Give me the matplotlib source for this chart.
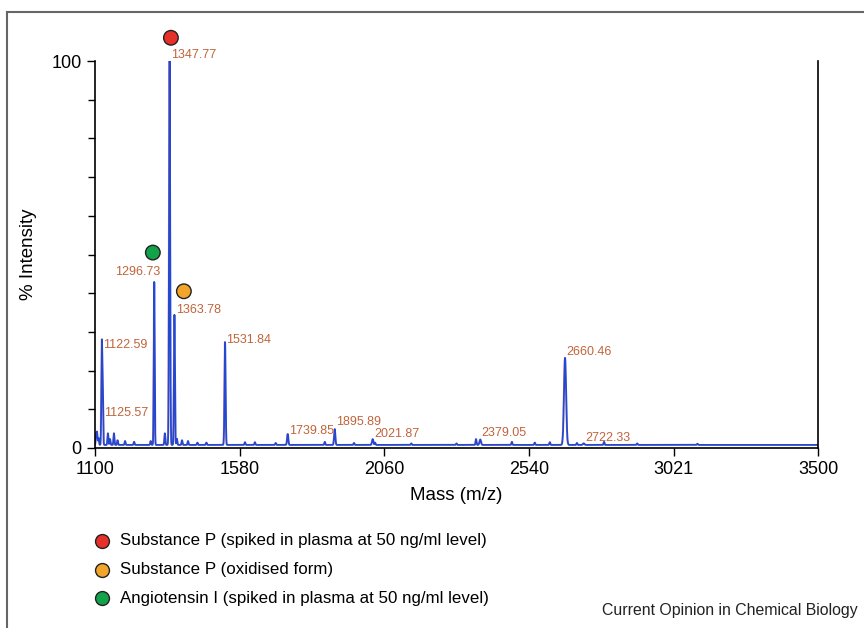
import matplotlib.pyplot as plt
import numpy as np
from matplotlib.lines import Line2D
from matplotlib.ticker import MultipleLocator

plt.rcParams['font.family'] = ['Liberation Sans', 'DejaVu Sans']

# labelled peaks (m/z, % intensity)
peak_mz = [1122.59, 1125.57, 1296.73, 1347.77, 1363.78, 1531.84,
           1739.85, 1895.89, 2021.87, 2379.05, 2660.46, 2722.33]
peak_int = [25.6, 15.5, 42.9, 100.0, 34.4, 27.4,
            3.6, 4.9, 2.3, 2.2, 23.3, 1.2]
peak_width = [1.5, 1.5, 1.5, 1.8, 1.6, 1.8,
              2.0, 2.0, 2.2, 2.5, 3.5, 2.5]

# small unlabelled peaks
minor_mz = [1104, 1107, 1112, 1143, 1150, 1163, 1175, 1200, 1230, 1285, 1332,
            1372, 1389, 1409, 1440, 1470, 1598, 1631, 1700, 1863, 1960,
            2030, 2150, 2300, 2365, 2484, 2560, 2610, 2700, 2790, 2900, 3100]
minor_int = [2.5, 3.0, 1.8, 3.0, 1.5, 3.0, 1.2, 1.0, 0.8, 1.0, 3.0,
             1.6, 1.2, 1.0, 0.6, 0.6, 0.7, 0.7, 0.5, 0.8, 0.5,
             0.6, 0.4, 0.4, 1.5, 0.8, 0.6, 0.7, 0.5, 0.8, 0.4, 0.3]
baseline = 0.8

# where each label sits relative to its peak
label_ha = ['left', 'left', 'right', 'left', 'left', 'left',
            'left', 'left', 'left', 'left', 'left', 'left']
label_y = [25.0, 7.5, 44.0, 100.0, 34.0, 26.3,
           2.9, 5.2, 2.1, 2.2, 23.2, 1.1]

# compound markers
marker_mz = [1352, 1292, 1395]
marker_y = [106.0, 50.5, 40.5]
marker_colors = ['#e8302a', '#12a24a', '#f2a52a']

legend_text = ['Substance P (spiked in plasma at 50 ng/ml level)',
               'Substance P (oxidised form)',
               'Angiotensin I (spiked in plasma at 50 ng/ml level)']
legend_colors = ['#e8302a', '#f2a52a', '#12a24a']

xticks = [1100, 1580, 2060, 2540, 3021, 3500]

# build the spectrum trace from the peak list
mz = np.arange(1100, 3500.25, 0.25)
spec = np.full_like(mz, baseline)
for m, h, w in zip(peak_mz, peak_int, peak_width):
    spec += (h - baseline) * np.exp(-0.5 * ((mz - m) / w) ** 2)
for m, h in zip(minor_mz, minor_int):
    spec += h * np.exp(-0.5 * ((mz - m) / 1.5) ** 2)

fig = plt.figure(figsize=(8.64, 6.28), dpi=100)
ax = fig.add_axes([95 / 864, 1 - 448 / 628, 723 / 864, 387 / 628])

ax.plot(mz - 1.5, spec, color='#f08a8a', lw=1.0, alpha=0.8)
ax.plot(mz, spec, color='#2448d0', lw=1.3)

ax.set_xlim(1100, 3500)
ax.set_ylim(0, 100)
ax.set_xticks(xticks)
ax.set_yticks([0, 100])
ax.yaxis.set_minor_locator(MultipleLocator(10))
ax.tick_params(axis='both', labelsize=13, direction='out', length=6, width=1)
ax.tick_params(axis='y', which='minor', length=5, width=1)
ax.spines['top'].set_visible(False)
for s in ['left', 'bottom', 'right']:
    ax.spines[s].set_linewidth(1.2)

ax.set_xlabel('Mass (m/z)', fontsize=13.5, labelpad=6)
ax.set_ylabel('% Intensity', fontsize=13.5)
ax.yaxis.set_label_coords(-0.08, 0.5)

for m, ly, ha in zip(peak_mz, label_y, label_ha):
    dx = 4 if ha == 'right' else 1
    ax.annotate(f'{m:.2f}', xy=(m, ly), xytext=(dx, 0), textcoords='offset points',
                ha=ha, va='bottom', fontsize=9, color='#c0643c')

ax.scatter(marker_mz, marker_y, s=110, c=marker_colors, edgecolors='#222222',
           linewidths=1.0, clip_on=False, zorder=5)

# legend below the chart
for i, (t, c) in enumerate(zip(legend_text, legend_colors)):
    y = 1 - (541 + i * 28.5) / 628
    fig.add_artist(Line2D([102 / 864], [y], marker='o', markersize=10,
                          markerfacecolor=c, markeredgecolor='#222222',
                          markeredgewidth=1.0, transform=fig.transFigure))
    fig.text(120 / 864, y, t, fontsize=12.2, va='center', ha='left')

fig.text(858 / 864, 1 - 611 / 628, 'Current Opinion in Chemical Biology',
         fontsize=11.4, ha='right', va='center', color='#222222')

# outer frame (top and left edges)
fig.add_artist(Line2D([7 / 864, 1], [1 - 12 / 628, 1 - 12 / 628],
                      color='#666666', lw=1.5, transform=fig.transFigure))
fig.add_artist(Line2D([7 / 864, 7 / 864], [0, 1 - 12 / 628],
                      color='#666666', lw=1.5, transform=fig.transFigure))

fig.savefig('out.png', dpi=100)
